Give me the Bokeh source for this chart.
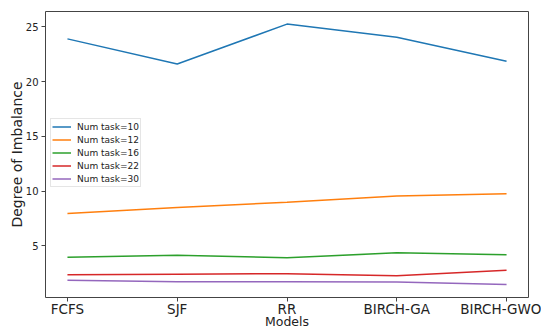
from bokeh.plotting import figure
from bokeh.models import Range1d, FixedTicker, Legend, LegendItem
from bokeh.embed import file_html
from bokeh.resources import INLINE

models = ["FCFS", "SJF", "RR", "BIRCH-GA", "BIRCH-GWO"]
task10 = [23.9, 21.6, 25.25, 24.05, 21.85]
task12 = [7.94, 8.49, 8.97, 9.54, 9.76]
task16 = [3.95, 4.12, 3.9, 4.35, 4.17]
task22 = [2.34, 2.4, 2.45, 2.25, 2.77]
task30 = [1.85, 1.72, 1.7, 1.68, 1.46]
series_labels = ["Num task=10", "Num task=12", "Num task=16", "Num task=22", "Num task=30"]
colors = ["#1f77b4", "#ff7f0e", "#2ca02c", "#d62728", "#9467bd"]
y_ticks = [5, 10, 15, 20, 25]

xs = list(range(len(models)))
FONT = "DejaVu Sans"

p = figure(width=541, height=331, output_backend="svg", toolbar_location=None,
           x_range=Range1d(-0.2, 4.2), y_range=Range1d(0.27, 26.4),
           min_border_left=45, min_border_right=13, min_border_top=11, min_border_bottom=34)
p.grid.visible = False
p.outline_line_color = "#444444"
p.outline_line_width = 1

items = []
for lab, ys, c in zip(series_labels, [task10, task12, task16, task22, task30], colors):
    r = p.line(xs, ys, line_color=c, line_width=1.5)
    items.append(LegendItem(label=lab, renderers=[r]))

legend = Legend(items=items, location=(5, 110))
legend.label_text_font = FONT
legend.label_text_font_size = "9px"
legend.label_text_color = "#222222"
legend.label_height = 13
legend.glyph_height = 13
legend.glyph_width = 19
legend.spacing = 0
legend.padding = 1
legend.margin = 0
legend.label_standoff = 6
legend.border_line_color = "#cccccc"
legend.background_fill_alpha = 0.85
p.add_layout(legend, "center")

p.xaxis.ticker = FixedTicker(ticks=xs)
p.xaxis.major_label_overrides = {i: m for i, m in enumerate(models)}
p.xaxis.axis_label = "Models"
p.xaxis.axis_label_text_font = FONT
p.xaxis.axis_label_text_font_size = "12.5px"
p.xaxis.axis_label_text_font_style = "normal"
p.xaxis.axis_label_standoff = -6
p.xaxis.major_label_text_font = FONT
p.xaxis.major_label_text_font_size = "13.5px"
p.xaxis.major_label_standoff = -1

p.yaxis.ticker = FixedTicker(ticks=y_ticks)
p.yaxis.axis_label = "Degree of Imbalance"
p.yaxis.axis_label_text_font = FONT
p.yaxis.axis_label_text_font_size = "14px"
p.yaxis.axis_label_text_font_style = "normal"
p.yaxis.axis_label_standoff = -2
p.yaxis.major_label_text_font = FONT
p.yaxis.major_label_text_font_size = "10px"
p.yaxis.major_label_standoff = 3

for ax in [p.xaxis, p.yaxis]:
    ax.axis_line_color = None
    ax.major_tick_in = 0
    ax.major_tick_out = 4
    ax.major_tick_line_color = "#444444"
    ax.minor_tick_line_color = None
    ax.major_label_text_color = "#222222"
    ax.axis_label_text_color = "#222222"

open("out.html", "w").write(file_html(p, INLINE))
